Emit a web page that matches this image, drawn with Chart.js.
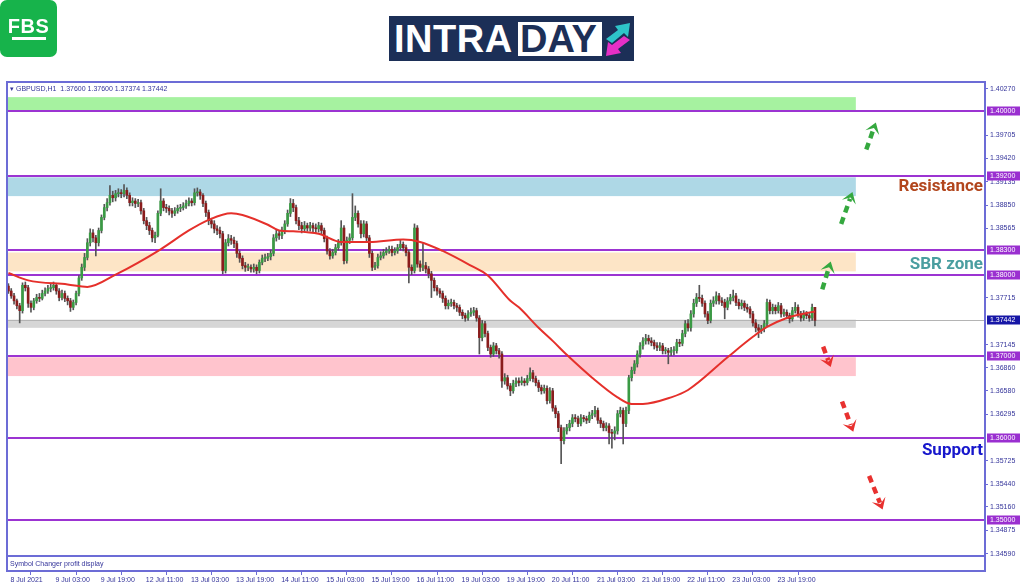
<!DOCTYPE html>
<html>
<head>
<meta charset="utf-8">
<script src="https://cdn.jsdelivr.net/npm/chart.js"></script>
<style>
  html, body { margin:0; padding:0; background:#fff; width:1024px; height:587px; overflow:hidden; }
  #c { position:absolute; left:0; top:0; }
  #fbs { position:absolute; left:0; top:0; width:57px; height:57px; background:#17b34b; border-radius:7px; }
  #fbs .t { position:absolute; left:0; width:57px; top:15px; text-align:center; color:#fff; font:bold 20px 'Liberation Sans', Arial, sans-serif; letter-spacing:0.5px; }
  #fbs .u { position:absolute; left:12px; top:37px; width:34px; height:3px; background:#fff; }
  #intra { position:absolute; left:389px; top:16px; width:245px; height:45px; background:#1c2f57; }
  #intra .a { position:absolute; left:5px; top:1px; color:#fff; font:bold 38px/44px 'Liberation Sans', Arial, sans-serif; letter-spacing:0.5px; }
  #intra .b { position:absolute; left:129px; top:6px; width:84px; height:34px; background:#fff; }
  #intra .b span { position:absolute; left:2px; top:-5px; color:#1c2f57; font:bold 38px/44px 'Liberation Sans', Arial, sans-serif; }
  #intra svg { position:absolute; left:214px; top:4px; }
</style>
</head>
<body>
<canvas id="c" width="1024" height="587"></canvas>
<div id="fbs"><div class="t">FBS</div><div class="u"></div></div>
<div id="intra"><div class="a">INTRA</div><div class="b"><span>DAY</span></div>
<svg width="30" height="38" viewBox="0 0 30 38">
  <polygon fill="#2ec4c9" points="3,19 15,10 12,6 27,3 25,17 21,13 9,23"/>
  <polygon fill="#e62fc6" points="27,20 15,29 18,33 3,36 5,22 9,25 21,16"/>
</svg>
</div>
<script>
// ---------------- DATA ----------------
const symbolName = 'GBPUSD,H1';

const opens = [
1.3786,1.3780,1.3774,1.3768,1.3762,1.3756,1.3787,1.3784,1.3765,1.3760,
1.3768,1.3772,1.3771,1.3777,1.3780,1.3783,1.3784,1.3787,1.3780,1.3772,
1.3777,1.3771,1.3768,1.3760,1.3766,1.3777,1.3796,1.3809,1.3821,1.3839,
1.3851,1.3845,1.3839,1.3854,1.3870,1.3882,1.3888,1.3897,1.3894,1.3899,
1.3900,1.3899,1.3903,1.3897,1.3888,1.3890,1.3887,1.3888,1.3878,1.3866,
1.3860,1.3854,1.3845,1.3848,1.3875,1.3890,1.3882,1.3881,1.3878,1.3875,
1.3878,1.3881,1.3882,1.3884,1.3887,1.3890,1.3888,1.3900,1.3901,1.3897,
1.3887,1.3876,1.3866,1.3862,1.3856,1.3854,1.3850,1.3805,1.3839,1.3844,
1.3842,1.3838,1.3826,1.3820,1.3811,1.3809,1.3809,1.3807,1.3809,1.3805,
1.3815,1.3820,1.3820,1.3822,1.3826,1.3845,1.3850,1.3848,1.3854,1.3862,
1.3875,1.3887,1.3882,1.3866,1.3860,1.3856,1.3860,1.3857,1.3860,1.3857,
1.3856,1.3860,1.3854,1.3844,1.3829,1.3823,1.3827,1.3833,1.3839,1.3857,
1.3817,1.3842,1.3845,1.3870,1.3875,1.3862,1.3850,1.3862,1.3845,1.3826,
1.3809,1.3811,1.3821,1.3823,1.3827,1.3829,1.3831,1.3827,1.3829,1.3833,
1.3837,1.3833,1.3827,1.3809,1.3805,1.3857,1.3813,1.3809,1.3811,1.3807,
1.3801,1.3793,1.3784,1.3780,1.3777,1.3771,1.3762,1.3765,1.3766,1.3762,
1.3760,1.3754,1.3750,1.3747,1.3752,1.3754,1.3756,1.3747,1.3723,1.3740,
1.3728,1.3711,1.3703,1.3713,1.3707,1.3703,1.3670,1.3674,1.3664,1.3658,
1.3667,1.3670,1.3668,1.3670,1.3668,1.3673,1.3680,1.3673,1.3668,1.3662,
1.3658,1.3661,1.3646,1.3658,1.3637,1.3630,1.3613,1.3597,1.3609,1.3613,
1.3618,1.3625,1.3624,1.3618,1.3625,1.3624,1.3622,1.3628,1.3630,1.3634,
1.3622,1.3618,1.3613,1.3615,1.3607,1.3606,1.3609,1.3630,1.3634,1.3618,
1.3634,1.3674,1.3683,1.3691,1.3703,1.3713,1.3719,1.3722,1.3719,1.3717,
1.3713,1.3711,1.3713,1.3707,1.3707,1.3705,1.3707,1.3707,1.3717,1.3716,
1.3728,1.3740,1.3735,1.3752,1.3765,1.3772,1.3771,1.3765,1.3752,1.3744,
1.3765,1.3768,1.3774,1.3768,1.3766,1.3760,1.3768,1.3772,1.3774,1.3766,
1.3762,1.3765,1.3760,1.3758,1.3752,1.3741,1.3735,1.3732,1.3734,1.3740,
1.3766,1.3756,1.3760,1.3756,1.3762,1.3752,1.3754,1.3750,1.3746,1.3756,
1.3760,1.3752,1.3747,1.3752,1.3750,1.3747,1.37600];

const highs = [
1.3789,1.3783,1.3777,1.3770,1.3765,1.3790,1.3791,1.3787,1.3768,1.3771,
1.3776,1.3777,1.3781,1.3784,1.3787,1.3789,1.3791,1.3789,1.3783,1.3781,
1.3780,1.3774,1.3771,1.3769,1.3780,1.3799,1.3813,1.3826,1.3844,1.3856,
1.3855,1.3848,1.3857,1.3873,1.3886,1.3893,1.3909,1.3902,1.3903,1.3905,
1.3904,1.3910,1.3906,1.3900,1.3894,1.3893,1.3892,1.3891,1.3881,1.3870,
1.3864,1.3857,1.3852,1.3878,1.3905,1.3893,1.3886,1.3884,1.3881,1.3882,
1.3885,1.3886,1.3888,1.3891,1.3894,1.3893,1.3905,1.3906,1.3904,1.3899,
1.3890,1.3879,1.3869,1.3866,1.3860,1.3858,1.3853,1.3843,1.3849,1.3848,
1.3846,1.3841,1.3829,1.3823,1.3815,1.3813,1.3812,1.3813,1.3812,1.3818,
1.3824,1.3825,1.3826,1.3830,1.3849,1.3855,1.3854,1.3858,1.3866,1.3879,
1.3893,1.3892,1.3885,1.3870,1.3864,1.3865,1.3863,1.3864,1.3863,1.3862,
1.3864,1.3863,1.3857,1.3847,1.3832,1.3831,1.3837,1.3843,1.3866,1.3860,
1.3846,1.3850,1.3899,1.3884,1.3878,1.3866,1.3866,1.3865,1.3848,1.3829,
1.3815,1.3825,1.3828,1.3831,1.3833,1.3835,1.3835,1.3833,1.3837,1.3842,
1.3840,1.3836,1.3830,1.3812,1.3862,1.3860,1.3817,1.3838,1.3815,1.3810,
1.3804,1.3796,1.3787,1.3783,1.3780,1.3774,1.3769,1.3770,1.3769,1.3765,
1.3763,1.3757,1.3753,1.3756,1.3759,1.3760,1.3759,1.3750,1.3744,1.3743,
1.3731,1.3714,1.3717,1.3716,1.3710,1.3706,1.3679,1.3677,1.3667,1.3671,
1.3674,1.3674,1.3675,1.3673,1.3677,1.3686,1.3683,1.3676,1.3671,1.3665,
1.3665,1.3664,1.3662,1.3661,1.3640,1.3633,1.3616,1.3613,1.3617,1.3622,
1.3629,1.3629,1.3627,1.3629,1.3628,1.3627,1.3632,1.3634,1.3639,1.3637,
1.3625,1.3621,1.3619,1.3618,1.3611,1.3614,1.3634,1.3638,1.3637,1.3638,
1.3677,1.3687,1.3695,1.3707,1.3717,1.3723,1.3727,1.3726,1.3723,1.3720,
1.3717,1.3717,1.3716,1.3711,1.3710,1.3711,1.3712,1.3721,1.3721,1.3732,
1.3744,1.3745,1.3756,1.3770,1.3777,1.3787,1.3775,1.3768,1.3755,1.3769,
1.3773,1.3779,1.3777,1.3772,1.3770,1.3772,1.3776,1.3781,1.3777,1.3770,
1.3769,1.3768,1.3764,1.3761,1.3755,1.3745,1.3739,1.3738,1.3744,1.3770,
1.3769,1.3764,1.3763,1.3766,1.3765,1.3758,1.3757,1.3753,1.3760,1.3766,
1.3763,1.3755,1.3756,1.3755,1.3753,1.3764,1.37600];

const lows = [
1.3777,1.3771,1.3764,1.3758,1.3741,1.3753,1.3780,1.3760,1.3754,1.3757,
1.3765,1.3767,1.3769,1.3774,1.3777,1.3779,1.3781,1.3776,1.3768,1.3769,
1.3767,1.3763,1.3755,1.3757,1.3763,1.3774,1.3793,1.3805,1.3818,1.3835,
1.3840,1.3823,1.3835,1.3851,1.3867,1.3878,1.3885,1.3889,1.3890,1.3895,
1.3894,1.3895,1.3893,1.3884,1.3884,1.3882,1.3883,1.3874,1.3862,1.3855,
1.3849,1.3840,1.3839,1.3846,1.3872,1.3878,1.3876,1.3873,1.3870,1.3872,
1.3875,1.3877,1.3879,1.3881,1.3884,1.3884,1.3885,1.3896,1.3892,1.3883,
1.3871,1.3861,1.3857,1.3851,1.3849,1.3845,1.3801,1.3802,1.3835,1.3837,
1.3833,1.3821,1.3815,1.3807,1.3804,1.3805,1.3803,1.3803,1.3801,1.3802,
1.3812,1.3816,1.3817,1.3818,1.3823,1.3841,1.3843,1.3844,1.3850,1.3859,
1.3871,1.3877,1.3862,1.3855,1.3851,1.3852,1.3853,1.3853,1.3852,1.3851,
1.3852,1.3849,1.3840,1.3825,1.3819,1.3820,1.3824,1.3830,1.3836,1.3813,
1.3814,1.3838,1.3842,1.3866,1.3858,1.3845,1.3846,1.3840,1.3821,1.3805,
1.3806,1.3808,1.3818,1.3820,1.3824,1.3826,1.3823,1.3824,1.3826,1.3830,
1.3829,1.3823,1.3790,1.3800,1.3802,1.3809,1.3804,1.3805,1.3802,1.3796,
1.3772,1.3780,1.3775,1.3772,1.3766,1.3758,1.3758,1.3761,1.3758,1.3755,
1.3750,1.3746,1.3743,1.3744,1.3749,1.3750,1.3743,1.3703,1.3719,1.3724,
1.3707,1.3699,1.3700,1.3703,1.3698,1.3662,1.3666,1.3660,1.3652,1.3655,
1.3663,1.3664,1.3665,1.3664,1.3665,1.3670,1.3669,1.3664,1.3657,1.3654,
1.3655,1.3642,1.3643,1.3633,1.3625,1.3608,1.3569,1.3593,1.3605,1.3609,
1.3614,1.3620,1.3614,1.3615,1.3620,1.3618,1.3619,1.3624,1.3626,1.3618,
1.3613,1.3609,1.3609,1.3593,1.3588,1.3598,1.3605,1.3626,1.3593,1.3614,
1.3630,1.3670,1.3679,1.3687,1.3699,1.3709,1.3715,1.3715,1.3713,1.3709,
1.3707,1.3707,1.3703,1.3703,1.3691,1.3701,1.3702,1.3704,1.3712,1.3713,
1.3724,1.3731,1.3731,1.3748,1.3761,1.3767,1.3761,1.3748,1.3740,1.3741,
1.3761,1.3764,1.3764,1.3762,1.3746,1.3757,1.3764,1.3768,1.3762,1.3758,
1.3758,1.3756,1.3754,1.3747,1.3737,1.3730,1.3723,1.3728,1.3730,1.3737,
1.3752,1.3752,1.3752,1.3753,1.3748,1.3749,1.3746,1.3741,1.3743,1.3753,
1.3748,1.3743,1.3744,1.3746,1.3743,1.3744,1.37374];

const closes = [
1.3780,1.3774,1.3768,1.3762,1.3756,1.3787,1.3784,1.3765,1.3760,1.3768,
1.3772,1.3771,1.3777,1.3780,1.3783,1.3784,1.3787,1.3780,1.3772,1.3777,
1.3771,1.3768,1.3760,1.3766,1.3777,1.3796,1.3809,1.3821,1.3839,1.3851,
1.3845,1.3839,1.3854,1.3870,1.3882,1.3888,1.3897,1.3894,1.3899,1.3900,
1.3899,1.3903,1.3897,1.3888,1.3890,1.3887,1.3888,1.3878,1.3866,1.3860,
1.3854,1.3845,1.3848,1.3875,1.3890,1.3882,1.3881,1.3878,1.3875,1.3878,
1.3881,1.3882,1.3884,1.3887,1.3890,1.3888,1.3900,1.3901,1.3897,1.3887,
1.3876,1.3866,1.3862,1.3856,1.3854,1.3850,1.3805,1.3839,1.3844,1.3842,
1.3838,1.3826,1.3820,1.3811,1.3809,1.3809,1.3807,1.3809,1.3805,1.3815,
1.3820,1.3820,1.3822,1.3826,1.3845,1.3850,1.3848,1.3854,1.3862,1.3875,
1.3887,1.3882,1.3866,1.3860,1.3856,1.3860,1.3857,1.3860,1.3857,1.3856,
1.3860,1.3854,1.3844,1.3829,1.3823,1.3827,1.3833,1.3839,1.3857,1.3817,
1.3842,1.3845,1.3870,1.3875,1.3862,1.3850,1.3862,1.3845,1.3826,1.3809,
1.3811,1.3821,1.3823,1.3827,1.3829,1.3831,1.3827,1.3829,1.3833,1.3837,
1.3833,1.3827,1.3809,1.3805,1.3857,1.3813,1.3809,1.3811,1.3807,1.3801,
1.3793,1.3784,1.3780,1.3777,1.3771,1.3762,1.3765,1.3766,1.3762,1.3760,
1.3754,1.3750,1.3747,1.3752,1.3754,1.3756,1.3747,1.3723,1.3740,1.3728,
1.3711,1.3703,1.3713,1.3707,1.3703,1.3670,1.3674,1.3664,1.3658,1.3667,
1.3670,1.3668,1.3670,1.3668,1.3673,1.3680,1.3673,1.3668,1.3662,1.3658,
1.3661,1.3646,1.3658,1.3637,1.3630,1.3613,1.3597,1.3609,1.3613,1.3618,
1.3625,1.3624,1.3618,1.3625,1.3624,1.3622,1.3628,1.3630,1.3634,1.3622,
1.3618,1.3613,1.3615,1.3607,1.3606,1.3609,1.3630,1.3634,1.3618,1.3634,
1.3674,1.3683,1.3691,1.3703,1.3713,1.3719,1.3722,1.3719,1.3717,1.3713,
1.3711,1.3713,1.3707,1.3707,1.3705,1.3707,1.3707,1.3717,1.3716,1.3728,
1.3740,1.3735,1.3752,1.3765,1.3772,1.3771,1.3765,1.3752,1.3744,1.3765,
1.3768,1.3774,1.3768,1.3766,1.3760,1.3768,1.3772,1.3774,1.3766,1.3762,
1.3765,1.3760,1.3758,1.3752,1.3741,1.3735,1.3732,1.3734,1.3740,1.3766,
1.3756,1.3760,1.3756,1.3762,1.3752,1.3754,1.3750,1.3746,1.3756,1.3760,
1.3752,1.3747,1.3752,1.3750,1.3747,1.3760,1.37442];

// moving average (bar index, price)
const maIndex  = [0,7,21,28,38,54,64,71,79,83,92,96,101,110,118,128,140,146,154,164,170,178,181,188,193,198,207,216,221,225,235,241,255,264,269,276,283,286];
const maValues = [1.3802,1.3793,1.3788,1.3785,1.3800,1.3831,1.3854,1.3867,1.3875,1.3873,1.3861,1.3854,1.3853,1.3850,1.3840,1.3840,1.3843,1.3840,1.3829,1.3811,1.3799,1.3768,1.3760,1.3735,1.3719,1.3702,1.3674,1.3650,1.3642,1.3642,1.3650,1.3659,1.3699,1.3724,1.3736,1.3747,1.3753,1.3755];

// time axis labels (bar index of each label)
const timeTickIndex = [0,16,32,48,64,80,96,112,128,144,160,176,192,208,224,240,256,272];
const timeTickLabels = ['8 Jul 2021','9 Jul 03:00','9 Jul 19:00','12 Jul 11:00','13 Jul 03:00','13 Jul 19:00','14 Jul 11:00','15 Jul 03:00','15 Jul 19:00','16 Jul 11:00','19 Jul 03:00','19 Jul 19:00','20 Jul 11:00','21 Jul 03:00','21 Jul 19:00','22 Jul 11:00','23 Jul 03:00','23 Jul 19:00'];

// price axis labels
const priceTicks = [1.40270,1.39705,1.39420,1.39135,1.38850,1.38565,1.37715,1.37145,1.36860,1.36580,1.36295,1.35725,1.35440,1.35160,1.34875,1.34590];
const levelPrices = [1.40000,1.39200,1.38300,1.38000,1.37000,1.36000,1.35000];
const currentPrice = 1.37442;

// zones (price bands)
const zoneLows  = [1.4001,1.3896,1.3804,1.3735,1.3676];
const zoneHighs = [1.4017,1.3919,1.3827,1.3745,1.3699];
const zoneEndIndex = 300.5;

// text annotations
const noteTexts  = ['Resistance','SBR zone','Support'];
const notePrices = [1.3908,1.3812,1.3585];

// forecast arrows (bar index / price of tail and head)
const arrowTailIdx   = [288.6,295.3,304.2,288.9,295.6,305.2];
const arrowTailPrice = [1.3782,1.3862,1.3953,1.3712,1.3645,1.3554];
const arrowHeadIdx   = [291.6,299.3,307.6,291.6,299.6,310.0];
const arrowHeadPrice = [1.3816,1.3901,1.3986,1.3687,1.3608,1.3513];

// ---------------- STYLE ----------------
const FRAME = '#6c6cd6';
const AXIS_TEXT = '#34349a';
const LEVEL = '#9c34d2';
const ZONE_COLORS = ['#a6f2a0','#aed8e6','#fde5c6','#d6d6d6','#ffc4cd'];
const NOTE_COLORS = ['#b2461d','#4a9ea0','#1717cc'];
const BULL = '#3a9a44', BEAR = '#8a1c1c', WICK = '#555555';
const FONT = "'Liberation Sans', Arial, sans-serif";
const Y_MAX = 1.40355, Y_MIN = 1.34377, MAIN_BOTTOM = 1.3456;

Chart.defaults.font.family = FONT;

const idx = closes.map((_, i) => i);
const wickData = idx.map(i => ({x: i, y: [lows[i], highs[i]]}));
const bodyData = idx.map(i => ({x: i, y: [opens[i], closes[i]]}));
const bodyColors = idx.map(i => closes[i] >= opens[i] ? BULL : BEAR);
const maData = maIndex.map((v, k) => ({x: v, y: maValues[k]}));

function drawArrow(ctx, x1, y1, x2, y2, color) {
  const ang = Math.atan2(y2 - y1, x2 - x1);
  const len = Math.hypot(x2 - x1, y2 - y1);
  const head = 13;
  const ex = x1 + Math.cos(ang) * (len - head * 0.55), ey = y1 + Math.sin(ang) * (len - head * 0.55);
  ctx.save();
  ctx.strokeStyle = color; ctx.fillStyle = color;
  ctx.lineWidth = 4.5; ctx.setLineDash([7, 5]); ctx.lineCap = 'butt';
  ctx.beginPath(); ctx.moveTo(x1, y1); ctx.lineTo(ex, ey); ctx.stroke();
  ctx.setLineDash([]);
  ctx.beginPath();
  ctx.moveTo(x2, y2);
  ctx.lineTo(x2 - head * Math.cos(ang - 0.6), y2 - head * Math.sin(ang - 0.6));
  ctx.lineTo(x2 - head * 0.45 * Math.cos(ang), y2 - head * 0.45 * Math.sin(ang));
  ctx.lineTo(x2 - head * Math.cos(ang + 0.6), y2 - head * Math.sin(ang + 0.6));
  ctx.closePath(); ctx.fill();
  ctx.restore();
}

function axisBox(ctx, a, py, text, bg) {
  ctx.fillStyle = bg;
  ctx.fillRect(a.right + 2, Math.round(py) - 4.5, 33, 9);
  ctx.fillStyle = '#ffffff';
  ctx.font = '7px ' + FONT;
  ctx.textAlign = 'left'; ctx.textBaseline = 'middle';
  ctx.fillText(text, a.right + 5, Math.round(py) + 0.5);
}

const overlay = {
  id: 'overlay',
  beforeDatasetsDraw(chart) {
    const {ctx, chartArea: a, scales: {x, y}} = chart;
    ctx.save();
    const xe = x.getPixelForValue(zoneEndIndex);
    zoneLows.forEach((lo, k) => {
      const y1 = y.getPixelForValue(zoneHighs[k]), y2 = y.getPixelForValue(lo);
      ctx.fillStyle = ZONE_COLORS[k];
      ctx.fillRect(a.left, y1, xe - a.left, y2 - y1);
    });
    const cp = Math.round(y.getPixelForValue(currentPrice)) + 0.5;
    ctx.strokeStyle = '#b4b4b4'; ctx.lineWidth = 1;
    ctx.beginPath(); ctx.moveTo(a.left, cp); ctx.lineTo(a.right, cp); ctx.stroke();
    ctx.strokeStyle = LEVEL; ctx.lineWidth = 2;
    levelPrices.forEach(v => {
      const py = Math.round(y.getPixelForValue(v));
      ctx.beginPath(); ctx.moveTo(a.left, py); ctx.lineTo(a.right, py); ctx.stroke();
    });
    ctx.restore();
  },
  afterDatasetsDraw(chart) {
    const {ctx, chartArea: a, scales: {x, y}} = chart;
    ctx.save();
    arrowTailIdx.forEach((t, k) => {
      const up = arrowHeadPrice[k] > arrowTailPrice[k];
      drawArrow(ctx, x.getPixelForValue(t), y.getPixelForValue(arrowTailPrice[k]),
        x.getPixelForValue(arrowHeadIdx[k]), y.getPixelForValue(arrowHeadPrice[k]),
        up ? '#35a83f' : '#e8312f');
    });
    ctx.font = 'bold 17px Roboto, ' + FONT;
    ctx.textAlign = 'right'; ctx.textBaseline = 'middle';
    noteTexts.forEach((t, k) => {
      ctx.fillStyle = NOTE_COLORS[k];
      ctx.fillText(t, a.right - 2, y.getPixelForValue(notePrices[k]));
    });
    ctx.restore();
  },
  afterDraw(chart) {
    const {ctx, chartArea: a, scales: {y}} = chart;
    ctx.save();
    ctx.strokeStyle = FRAME; ctx.lineWidth = 2;
    ctx.strokeRect(a.left, a.top, a.right - a.left, a.bottom - a.top);
    const mb = Math.round(y.getPixelForValue(MAIN_BOTTOM));
    ctx.beginPath(); ctx.moveTo(a.left, mb); ctx.lineTo(a.right, mb); ctx.stroke();
    ctx.fillStyle = AXIS_TEXT; ctx.font = '7px ' + FONT;
    ctx.textAlign = 'left'; ctx.textBaseline = 'middle';
    const n = closes.length - 1;
    ctx.fillText('\u25BE ' + symbolName + '  ' + opens[n].toFixed(5) + ' ' + highs[n].toFixed(5) + ' ' +
      lows[n].toFixed(5) + ' ' + closes[n].toFixed(5), a.left + 3, a.top + 7);
    ctx.fillText('Symbol Changer profit display', a.left + 3, (mb + a.bottom) / 2 + 0.5);
    levelPrices.forEach(v => axisBox(ctx, a, y.getPixelForValue(v), v.toFixed(5), '#9a2fd0'));
    axisBox(ctx, a, y.getPixelForValue(currentPrice), currentPrice.toFixed(5), '#1616a6');
    ctx.restore();
  }
};

new Chart(document.getElementById('c'), {
  type: 'bar',
  data: {
    datasets: [
      { type: 'line', data: maData, borderColor: '#e5302b', borderWidth: 2, pointRadius: 0,
        cubicInterpolationMode: 'monotone', order: 0 },
      { data: bodyData, backgroundColor: bodyColors, barThickness: 2, minBarLength: 1,
        grouped: false, order: 1 },
      { data: wickData, backgroundColor: WICK, barThickness: 1, grouped: false, order: 2 }
    ]
  },
  options: {
    responsive: false,
    animation: false,
    devicePixelRatio: 1,
    layout: { padding: { left: 7, top: 82, right: 0, bottom: 0 } },
    plugins: { legend: { display: false }, tooltip: { enabled: false } },
    scales: {
      x: {
        type: 'linear', min: -0.5, max: 346.3, offset: false,
        afterBuildTicks: s => { s.ticks = timeTickIndex.map(v => ({ value: v })); },
        afterFit: s => { s.height = 16; },
        ticks: {
          callback: v => timeTickLabels[timeTickIndex.indexOf(v)],
          autoSkip: false, maxRotation: 0, minRotation: 0, align: 'start', labelOffset: 2,
          padding: 1, color: AXIS_TEXT, font: { size: 7, family: FONT }
        },
        grid: { drawOnChartArea: false, drawTicks: true, tickLength: 4, color: FRAME },
        border: { display: false }
      },
      y: {
        type: 'linear', position: 'right', min: Y_MIN, max: Y_MAX,
        afterBuildTicks: s => { s.ticks = priceTicks.map(v => ({ value: v })); },
        afterFit: s => { s.width = 39; },
        ticks: {
          callback: v => v.toFixed(5), autoSkip: false, padding: 2,
          color: AXIS_TEXT, font: { size: 7, family: FONT }
        },
        grid: { drawOnChartArea: false, drawTicks: true, tickLength: 3, color: FRAME },
        border: { display: false }
      }
    }
  },
  plugins: [overlay]
});
</script>
</body>
</html>
